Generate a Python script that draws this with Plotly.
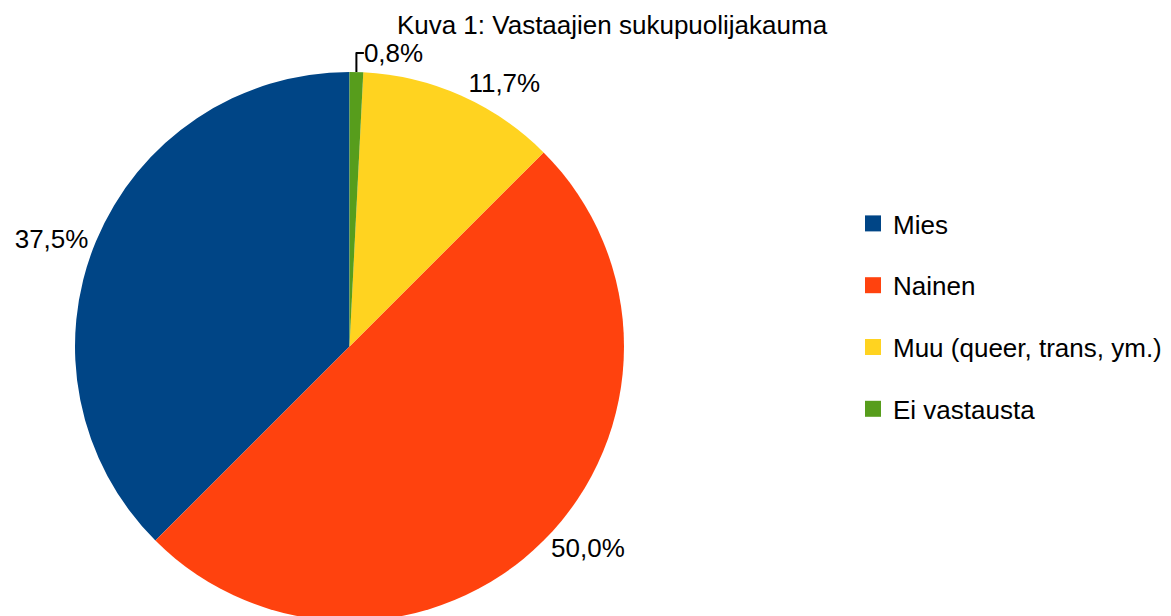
import plotly.graph_objects as go

labels = ["Mies", "Nainen", "Muu (queer, trans, ym.)", "Ei vastausta"]
values = [37.5, 50.0, 11.7, 0.8]
colors = ["#004586", "#ff420e", "#ffd320", "#579d1c"]
title_text = "Kuva 1: Vastaajien sukupuolijakauma"

W, H = 1171, 616
FONT = "Liberation Sans, Arial, sans-serif"
FS = 26

pct_text = [f"{v:.1f}%".replace(".", ",") for v in values]
# plotly's counterclockwise pies end the first slice at the rotation angle;
# shift so the first slice starts at 12 o'clock like the reference
first_angle = -values[0] / sum(values) * 360

fig = go.Figure()
fig.add_trace(go.Pie(
    labels=labels, values=values, text=pct_text,
    textinfo="text", textposition="outside",
    sort=False, direction="counterclockwise", rotation=first_angle,
    marker=dict(colors=colors, line=dict(width=0)),
    textfont=dict(family=FONT, size=FS, color="#000000"),
    domain=dict(x=[67 / W, 616 / W], y=[3 / H, 552 / H]),
    showlegend=False, hoverinfo="label+percent",
))

for lab, col in zip(labels, colors):
    fig.add_trace(go.Scatter(
        x=[None], y=[None], mode="markers", name=lab, legendgroup=lab,
        marker=dict(symbol="square", size=16, color=col),
        showlegend=True,
    ))

fig.update_layout(
    width=W, height=H,
    margin=dict(l=0, r=0, t=0, b=0, autoexpand=False),
    paper_bgcolor="white", plot_bgcolor="white",
    title=dict(text=title_text, x=604 / W, xanchor="center",
               y=1 - 17 / H, yanchor="middle", yref="container",
               font=dict(family=FONT, size=FS, color="#000000")),
    xaxis=dict(visible=False), yaxis=dict(visible=False),
    legend=dict(x=845 / W, xanchor="left", y=1 - 192 / H, yanchor="top",
                font=dict(family=FONT, size=FS, color="#000000"),
                tracegroupgap=25, itemsizing="trace",
                bgcolor="rgba(0,0,0,0)"),
)

fig.write_html("out.html")
